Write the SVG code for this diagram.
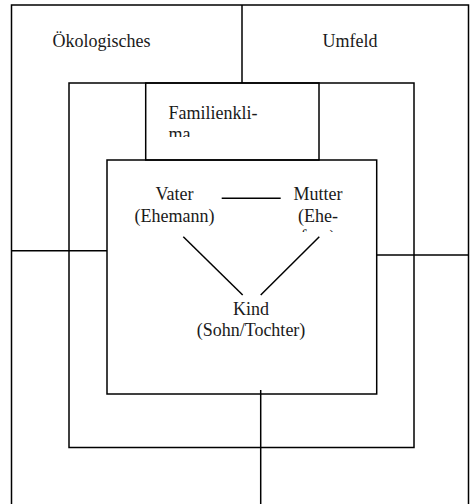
<svg xmlns="http://www.w3.org/2000/svg" width="472" height="504" viewBox="0 0 472 504">
<style>
.ln{fill:none;stroke:#000;stroke-width:1.5}
.t{font-family:'Liberation Serif','Times New Roman','DejaVu Serif',serif;font-size:18px;fill:#1a1a1a}
.c{text-anchor:middle}
</style>
<defs>
<clipPath id="cf"><rect x="146" y="84" width="172" height="53"/></clipPath>
<clipPath id="cm"><rect x="280" y="180" width="80" height="52"/></clipPath>
</defs>
<rect width="472" height="504" fill="#fff"/>
<g id="umfeld">
<path class="ln" d="M11.5,504V5H468.5V504"/>
<text class="t" x="52.5" y="47" font-family="Liberation Serif, serif">Ökologisches</text>
<text class="t" x="322.5" y="47" font-family="Liberation Serif, serif">Umfeld</text>
</g>
<g id="familie">
<rect class="ln" x="69" y="83" width="345" height="364.5"/>
</g>
<g id="familienklima">
<rect class="ln" x="145.7" y="83" width="173.3" height="77"/>
<g clip-path="url(#cf)">
<text class="t" x="168.5" y="118.5">Familienkli-</text>
<text class="t" x="168.5" y="139.5">ma</text>
</g>
</g>
<g id="kern">
<rect class="ln" x="107" y="160" width="269.7" height="234"/>
</g>
<g id="vater">
<text class="t c" x="174.5" y="200">Vater</text>
<text class="t c" x="174.5" y="221.5">(Ehemann)</text>
</g>
<g id="mutter" clip-path="url(#cm)">
<text class="t c" x="318" y="200">Mutter</text>
<text class="t c" x="318" y="221.5">(Ehe-</text>
<text class="t c" x="318" y="243">frau)</text>
</g>
<g id="kind">
<text class="t c" x="251" y="314.5">Kind</text>
<text class="t c" x="251" y="336">(Sohn/Tochter)</text>
</g>
<g id="connectors">
<line class="ln" x1="242" y1="5" x2="242" y2="83"/>
<line class="ln" x1="11.5" y1="250.7" x2="107" y2="250.7"/>
<line class="ln" x1="376.7" y1="255" x2="468.5" y2="255"/>
<line class="ln" x1="260.7" y1="390" x2="260.7" y2="504"/>
<line class="ln" x1="221.7" y1="198.3" x2="280.7" y2="198.3"/>
<line class="ln" x1="183.3" y1="236.7" x2="242.7" y2="295"/>
<line class="ln" x1="319.3" y1="236.7" x2="260.7" y2="295"/>
</g>
</svg>
